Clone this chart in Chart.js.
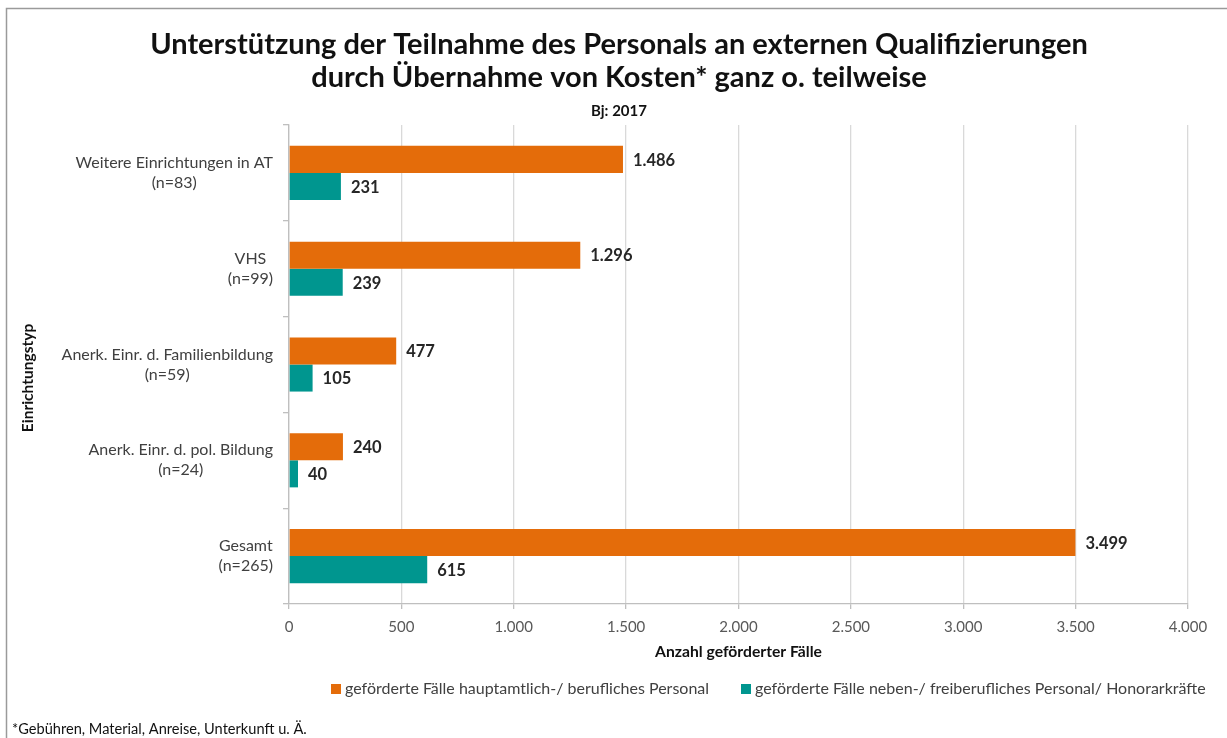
<!DOCTYPE html>
<html>
<head>
<meta charset="utf-8">
<script src="https://cdn.jsdelivr.net/npm/chart.js@4.4.1/dist/chart.umd.min.js"></script>
<style>
html,body{margin:0;padding:0;background:#fff;}
#wrap{width:1227px;height:738px;position:relative;}
</style>
</head>
<body>
<div id="wrap"><canvas id="c" width="1227" height="738"></canvas></div>
<script>
const categories = [
  ["Weitere Einrichtungen in AT", "(n=83)"],
  ["VHS", "(n=99)"],
  ["Anerk. Einr. d. Familienbildung", "(n=59)"],
  ["Anerk. Einr. d. pol. Bildung", "(n=24)"],
  ["Gesamt", "(n=265)"]
];
const seriesNames = [
  "geförderte Fälle hauptamtlich-/ berufliches Personal",
  "geförderte Fälle neben-/ freiberufliches Personal/ Honorarkräfte"
];
const hauptamtlich = [1486, 1296, 477, 240, 3499];
const nebenberuflich = [231, 239, 105, 40, 615];
const xTicks = [0, 500, 1000, 1500, 2000, 2500, 3000, 3500, 4000];
const titleLines = [
  "Unterstützung der Teilnahme des Personals an externen Qualifizierungen",
  "durch Übernahme von Kosten* ganz o. teilweise"
];
const subtitle = "Bj: 2017";
const xTitle = "Anzahl geförderter Fälle";
const yTitle = "Einrichtungstyp";
const footnote = "*Gebühren, Material, Anreise, Unterkunft u. Ä.";

const ORANGE = "#E46C0A";
const TEAL = "#00968F";
const FONT = "Lato, 'Open Sans', sans-serif";

function de(n){
  return String(n).replace(/\B(?=(\d{3})+(?!\d))/g, ".");
}

const decor = {
  id: "decor",
  beforeDraw(chart){
    const ctx = chart.ctx;
    ctx.save();
    ctx.fillStyle = "#fff";
    ctx.fillRect(0,0,chart.width,chart.height);
    ctx.strokeStyle = "#9a9a9a";
    ctx.lineWidth = 1.5;
    ctx.strokeRect(6.5, 8.5, 1260, 760);
    ctx.restore();
  },
  afterDraw(chart){
    const ctx = chart.ctx;
    const ys = chart.scales.y;
    const area = chart.chartArea;
    ctx.save();
    // title
    ctx.fillStyle = "#111";
    ctx.textAlign = "center";
    ctx.textBaseline = "middle";
    ctx.font = "bold 29px " + FONT;
    ctx.fillText(titleLines[0], 619, 45);
    ctx.fillText(titleLines[1], 619, 78);
    ctx.font = "bold 15px " + FONT;
    ctx.fillText(subtitle, 619, 111);

    // y category labels (lines centered within right-aligned block)
    ctx.font = "16px " + FONT;
    ctx.fillStyle = "#404040";
    const rightEdge = area.left - 16;
    categories.forEach((lines, i) => {
      const yc = ys.getPixelForValue(i);
      const w = Math.max(...lines.map(l => ctx.measureText(l).width));
      const cx = rightEdge - w/2;
      ctx.textAlign = "center";
      ctx.fillText(lines[0], cx, yc - 10);
      ctx.fillText(lines[1], cx, yc + 10);
    });

    // y title
    ctx.save();
    ctx.translate(28, 378);
    ctx.rotate(-Math.PI/2);
    ctx.font = "bold 15.5px " + FONT;
    ctx.fillStyle = "#111";
    ctx.textAlign = "center";
    ctx.fillText(yTitle, 0, 0);
    ctx.restore();

    // x title
    ctx.font = "bold 15.7px " + FONT;
    ctx.fillStyle = "#111";
    ctx.textAlign = "center";
    ctx.fillText(xTitle, (area.left + area.right)/2, 652);

    // data labels
    ctx.font = "bold 16.5px " + FONT;
    ctx.fillStyle = "#262626";
    ctx.textAlign = "left";
    chart.data.datasets.forEach((ds, di) => {
      const meta = chart.getDatasetMeta(di);
      meta.data.forEach((bar, i) => {
        ctx.fillText(de(ds.data[i]), bar.x + 10, bar.y + 1);
      });
    });

    // legend
    ctx.font = "16px " + FONT;
    const legY = 689;
    const items = [
      {x: 331, color: ORANGE, text: seriesNames[0]},
      {x: 741, color: TEAL, text: seriesNames[1]}
    ];
    items.forEach(it => {
      ctx.fillStyle = it.color;
      ctx.fillRect(it.x, legY - 5, 10, 10);
      ctx.fillStyle = "#404040";
      ctx.textAlign = "left";
      ctx.fillText(it.text, it.x + 14, legY);
    });

    // footnote
    ctx.font = "14.6px " + FONT;
    ctx.fillStyle = "#111";
    ctx.textAlign = "left";
    ctx.fillText(footnote, 12, 729);
    ctx.restore();
  }
};

new Chart(document.getElementById("c"), {
  type: "bar",
  data: {
    labels: categories,
    datasets: [
      {label: seriesNames[0], data: hauptamtlich, backgroundColor: ORANGE, borderWidth: 0,
       categoryPercentage: 0.565, barPercentage: 1.0},
      {label: seriesNames[1], data: nebenberuflich, backgroundColor: TEAL, borderWidth: 0,
       categoryPercentage: 0.565, barPercentage: 1.0}
    ]
  },
  options: {
    indexAxis: "y",
    responsive: false,
    animation: false,
    devicePixelRatio: 1,
    layout: {padding: {left: 189, right: 39, top: 125, bottom: 84}},
    plugins: {legend: {display: false}, tooltip: {enabled: false}, title: {display: false}},
    scales: {
      x: {
        min: 0, max: 4000,
        afterBuildTicks(scale){ scale.ticks = xTicks.map(v => ({value: v})); },
        afterFit(scale){ scale.height = 50; },
        grid: {color: "#d9d9d9", lineWidth: 1.3, tickColor: "#bfbfbf", tickLength: 5, drawTicks: true},
        border: {display: true, color: "#bfbfbf", width: 1.3},
        ticks: {
          callback: v => de(v),
          color: "#595959",
          font: {family: FONT, size: 15},
          padding: 9,
          maxRotation: 0
        }
      },
      y: {
        offset: true,
        afterFit(scale){ scale.width = 100; },
        grid: {offset: true, drawOnChartArea: false, drawTicks: true, tickLength: 6, tickColor: "#bfbfbf", lineWidth: 1.3},
        border: {display: true, color: "#bfbfbf", width: 1.3},
        ticks: {display: false}
      }
    }
  },
  plugins: [decor]
});
</script>
</body>
</html>
